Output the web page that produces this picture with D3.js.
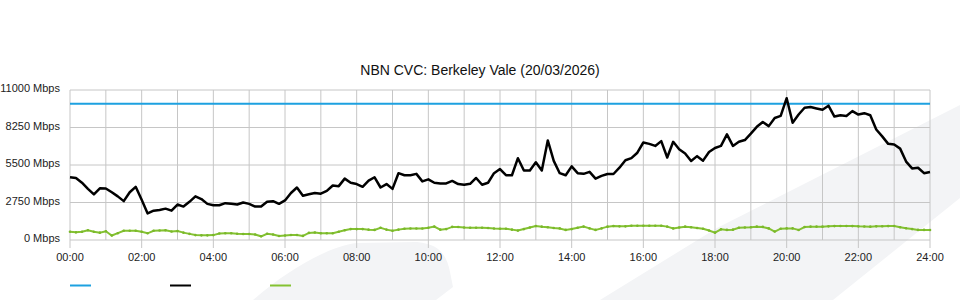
<!DOCTYPE html>
<html>
<head>
<meta charset="utf-8">
<script src="https://cdn.jsdelivr.net/npm/d3@7"></script>
<style>
  body { margin: 0; background: #fff; }
  svg { display: block; font-family: "Liberation Sans", Arial, sans-serif; }
</style>
</head>
<body>
<script>
// chart data, one sample every 10 minutes from 00:00 to 24:00
var title = "NBN CVC: Berkeley Vale (20/03/2026)";
var stepMinutes = 10;
var capacity = 10000;

var yTicks = [0, 2750, 5500, 8250, 11000];
var xTickLabels = ["00:00", "02:00", "04:00", "06:00", "08:00", "10:00", "12:00",
                   "14:00", "16:00", "18:00", "20:00", "22:00", "24:00"];

// download traffic (black)
var download = [
  4600, 4550, 4200, 3750, 3350, 3790, 3780, 3500, 3200, 2850,
  3500, 3900, 2950, 1950, 2150, 2200, 2300, 2150, 2600, 2450,
  2800, 3200, 3000, 2650, 2550, 2550, 2700, 2650, 2600, 2750,
  2650, 2450, 2450, 2800, 2850, 2650, 2900, 3450, 3850, 3250,
  3350, 3450, 3400, 3600, 4000, 3950, 4500, 4200, 4100, 3900,
  4350, 4600, 3850, 4100, 3750, 4900, 4750, 4750, 4850, 4300,
  4450, 4200, 4150, 4150, 4330, 4100, 4050, 4120, 4550, 4050,
  4200, 4900, 5200, 4750, 4750, 6000, 5100, 5100, 5700, 5100,
  7300, 5800, 4900, 4750, 5400, 4900, 4850, 5000, 4500, 4700,
  4840, 4840, 5300, 5850, 6000, 6400, 7150, 7050, 6900, 7250,
  6050, 7200, 6650, 6350, 5800, 6150, 5820, 6450, 6750, 6900,
  7750, 6900, 7200, 7330, 7800, 8300, 8650, 8350, 8950, 9100,
  10400, 8600, 9200, 9700, 9750, 9650, 9550, 9850, 9050, 9150,
  9100, 9450, 9200, 9300, 9150, 8100, 7600, 7050, 7000, 6700,
  5750, 5250, 5300, 4900, 4980
];

// upload traffic (green)
var upload = [
  610, 560, 600, 720, 600, 540, 640, 330, 500, 680,
  680, 680, 600, 490, 680, 700, 720, 620, 660, 540,
  450, 360, 340, 340, 360, 480, 490, 490, 460, 440,
  440, 400, 270, 460, 400, 290, 330, 370, 370, 300,
  520, 550, 490, 490, 490, 600, 720, 800, 800, 800,
  760, 740, 900, 760, 680, 760, 830, 840, 840, 840,
  900, 980, 760, 800, 960, 950, 920, 900, 900, 900,
  880, 840, 830, 830, 760, 690, 800, 920, 1030, 980,
  940, 880, 850, 740, 800, 900, 980, 850, 740, 850,
  980, 1030, 1000, 1000, 1040, 1050, 1050, 1040, 1050, 1050,
  980, 850, 920, 980, 930, 880, 820, 700, 540, 780,
  740, 760, 900, 920, 940, 980, 960, 850, 620, 830,
  850, 850, 730, 950, 980, 980, 980, 1000, 1020, 1030,
  1030, 1020, 1000, 990, 980, 1000, 1010, 1020, 1030, 940,
  860, 800, 740, 740, 730
];

var colors = {capacity: "#1da1e0", download: "#000000", upload: "#84c232"};

var width = 960, height = 300;
var margin = {top: 90, right: 30, bottom: 60, left: 70};

var svg = d3.select("body").append("svg")
    .attr("width", width)
    .attr("height", height);

// faint watermark shapes behind everything
svg.append("path")
    .attr("d", "M600,300 L717,228 L960,105 L960,198 L833,300 Z")
    .attr("fill", "#f3f4f6");
svg.append("path")
    .attr("d", "M253,300 C290,268 330,246 357,243 L417,242 C440,244 447,256 450,272 L453,287 L436,300 Z")
    .attr("fill", "#f3f4f6");

var x = d3.scaleLinear()
    .domain([0, 1440])
    .range([margin.left, width - margin.right]);

var y = d3.scaleLinear()
    .domain([0, 11000])
    .range([height - margin.bottom, margin.top]);

//title
svg.append("text")
    .attr("x", 480)
    .attr("y", 75)
    .attr("text-anchor", "middle")
    .attr("font-size", 14)
    .attr("fill", "#111")
    .text(title);

//grid: vertical lines every hour
var hours = d3.range(0, 25);
svg.append("g").selectAll("line")
    .data(hours)
    .enter().append("line")
    .attr("x1", function(d) { return x(d * 60); })
    .attr("x2", function(d) { return x(d * 60); })
    .attr("y1", y(11000))
    .attr("y2", function(d) { return d % 2 === 0 ? y(0) + 8 : y(0); })
    .attr("stroke", "#c6c6c6")
    .attr("stroke-width", 1);

//grid: horizontal lines
svg.append("g").selectAll("line")
    .data(yTicks)
    .enter().append("line")
    .attr("x1", x(0))
    .attr("x2", x(1440))
    .attr("y1", function(d) { return y(d); })
    .attr("y2", function(d) { return y(d); })
    .attr("stroke", "#c6c6c6")
    .attr("stroke-width", 1);

//left labels
svg.append("g").selectAll("text")
    .data(yTicks)
    .enter().append("text")
    .attr("x", 60)
    .attr("y", function(d) { return y(d) + 2; })
    .attr("text-anchor", "end")
    .attr("font-size", 11)
    .attr("fill", "#222")
    .text(function(d) { return d + " Mbps"; });

//bottom labels
svg.append("g").selectAll("text")
    .data(xTickLabels)
    .enter().append("text")
    .attr("x", function(d, i) { return x(i * 120); })
    .attr("y", 261)
    .attr("text-anchor", "middle")
    .attr("font-size", 11)
    .attr("fill", "#222")
    .text(function(d) { return d; });

var line = d3.line()
    .x(function(d, i) { return x(i * stepMinutes); })
    .y(function(d) { return y(d); });

//capacity line
svg.append("line")
    .attr("x1", x(0))
    .attr("x2", x(1440))
    .attr("y1", y(capacity))
    .attr("y2", y(capacity))
    .attr("stroke", colors.capacity)
    .attr("stroke-width", 2);

//upload
svg.append("path")
    .datum(upload)
    .attr("d", line)
    .attr("fill", "none")
    .attr("stroke", colors.upload)
    .attr("stroke-width", 2);

svg.append("g").selectAll("circle")
    .data(upload)
    .enter().append("circle")
    .attr("cx", function(d, i) { return x(i * stepMinutes); })
    .attr("cy", function(d) { return y(d); })
    .attr("r", 1.3)
    .attr("fill", "#7ab82a");

//download
svg.append("path")
    .datum(download)
    .attr("d", line)
    .attr("fill", "none")
    .attr("stroke", colors.download)
    .attr("stroke-width", 2.5)
    .attr("stroke-linejoin", "round");

//legend (swatches only)
var legendKeys = ["capacity", "download", "upload"];
svg.append("g").selectAll("line")
    .data(legendKeys)
    .enter().append("line")
    .attr("x1", function(d, i) { return 70 + i * 100; })
    .attr("x2", function(d, i) { return 91 + i * 100; })
    .attr("y1", 285.5)
    .attr("y2", 285.5)
    .attr("stroke", function(d) { return colors[d]; })
    .attr("stroke-width", 2);
</script>
</body>
</html>
